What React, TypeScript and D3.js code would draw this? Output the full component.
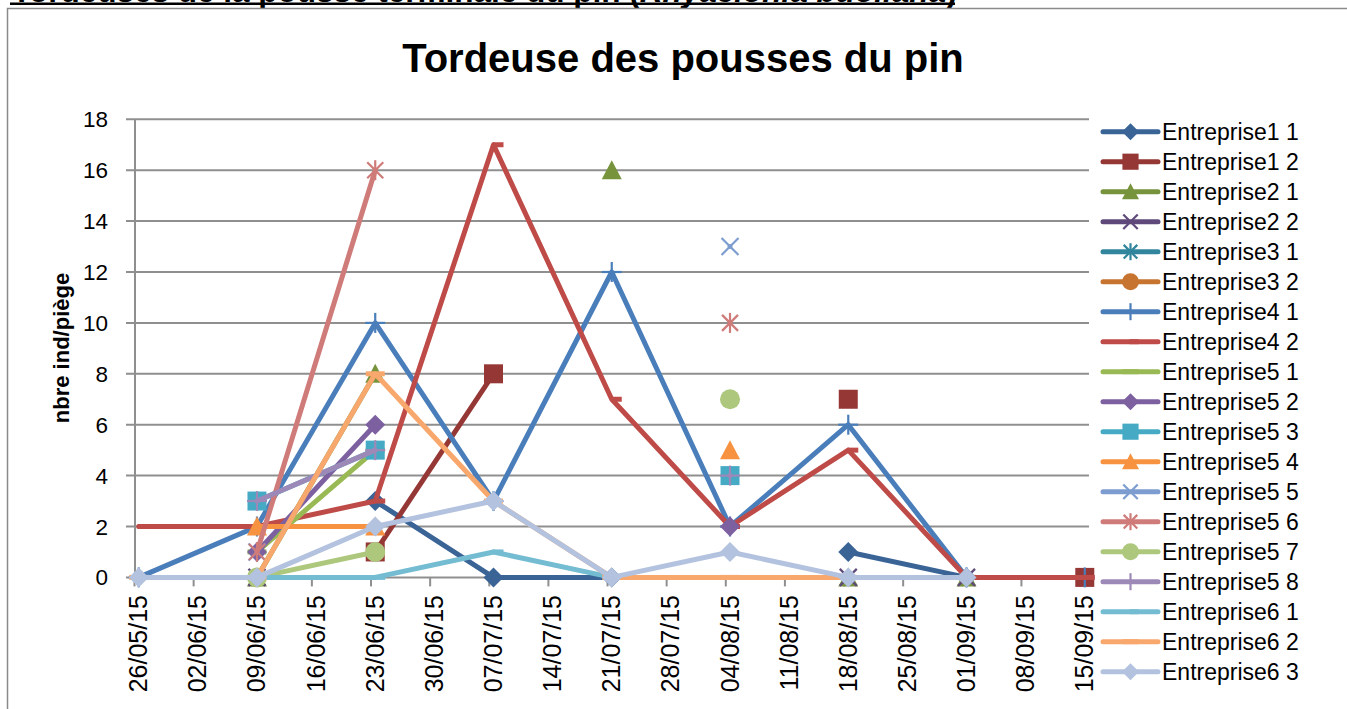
import React from 'react';
import * as d3 from 'd3';

// ---- data ----
const dateStrings = ['2015-05-26', '2015-06-09', '2015-06-23', '2015-07-07', '2015-07-21', '2015-08-04', '2015-08-18', '2015-09-01', '2015-09-15'];

const seriesNames = [
  'Entreprise1 1', 'Entreprise1 2', 'Entreprise2 1', 'Entreprise2 2', 'Entreprise3 1', 'Entreprise3 2',
  'Entreprise4 1', 'Entreprise4 2', 'Entreprise5 1', 'Entreprise5 2', 'Entreprise5 3', 'Entreprise5 4',
  'Entreprise5 5', 'Entreprise5 6', 'Entreprise5 7', 'Entreprise5 8', 'Entreprise6 1', 'Entreprise6 2', 'Entreprise6 3',
];

const seriesColors = [
  '#3A6396', '#953735', '#77933C', '#5F497A', '#31859C', '#C6742F',
  '#4A7EBB', '#BE4B48', '#98B954', '#7D60A0', '#46AAC5', '#F69240',
  '#7D9DD0', '#CF7B79', '#ADC77C', '#9C89B8', '#74BCD2', '#F8A86D', '#B3C2DE',
];

const seriesMarkers = [
  'diamond', 'square', 'triangle', 'x', 'star', 'circle', 'plus', 'dash', 'longdash',
  'diamond', 'square', 'triangle', 'x', 'star', 'circle', 'plus', 'dash', 'longdash', 'diamond',
];

type V = number | null;
const n = null;
const entreprise1_1: V[] = [n, n, 3, 0, 0, n, 1, 0, n];
const entreprise1_2: V[] = [n, n, 1, 8, n, n, 7, n, 0];
const entreprise2_1: V[] = [n, 0, 8, n, 16, n, 0, 0, n];
const entreprise2_2: V[] = [n, 0, n, n, n, n, 0, 0, n];
const entreprise3_1: V[] = [n, n, n, n, n, n, n, n, n];
const entreprise3_2: V[] = [n, n, n, n, n, n, n, n, n];
const entreprise4_1: V[] = [0, 2, 10, 3, 12, 2, 6, 0, 0];
const entreprise4_2: V[] = [2, 2, 3, 17, 7, 2, 5, 0, 0];
const entreprise5_1: V[] = [n, 1, 5, n, n, n, n, n, n];
const entreprise5_2: V[] = [n, 1, 6, n, n, 2, n, n, n];
const entreprise5_3: V[] = [n, 3, 5, n, n, 4, n, n, n];
const entreprise5_4: V[] = [n, 2, 2, n, n, 5, n, n, n];
const entreprise5_5: V[] = [n, 1, n, n, n, 13, n, n, n];
const entreprise5_6: V[] = [n, 1, 16, n, n, 10, n, n, n];
const entreprise5_7: V[] = [n, 0, 1, n, n, 7, n, n, n];
const entreprise5_8: V[] = [n, 3, 5, n, n, 4, n, n, n];
const entreprise6_1: V[] = [n, 0, 0, 1, 0, n, n, n, n];
const entreprise6_2: V[] = [0, 0, 8, 3, 0, 0, 0, n, n];
const entreprise6_3: V[] = [0, 0, 2, 3, 0, 1, 0, 0, n];

const seriesValues = [
  entreprise1_1, entreprise1_2, entreprise2_1, entreprise2_2, entreprise3_1, entreprise3_2,
  entreprise4_1, entreprise4_2, entreprise5_1, entreprise5_2, entreprise5_3, entreprise5_4,
  entreprise5_5, entreprise5_6, entreprise5_7, entreprise5_8, entreprise6_1, entreprise6_2, entreprise6_3,
];

const yTicks = [0, 2, 4, 6, 8, 10, 12, 14, 16, 18];
const chartTitle = 'Tordeuse des pousses du pin';
const yTitle = 'nbre ind/piège';
const headingMain = 'Tordeuses de la pousse terminale du pin (';
const headingItalic = 'Rhyacionia buoliana';

// ---- layout ----
const W = 1347;
const H = 709;
const FONT = '"Liberation Sans", Arial, sans-serif';

const parse = (s: string) => {
  const [yy, m, d] = s.split('-').map(Number);
  return new Date(Date.UTC(yy, m - 1, d));
};
const dates = dateStrings.map(parse);
const startDay = dates[0];
const endDay = d3.utcDay.offset(dates[dates.length - 1], 1);

const x = d3.scaleUtc().domain([startDay, endDay]).range([134.5, 1089]);
const y = d3.scaleLinear().domain([0, 18]).range([577.4, 119.3]);
const px = (d: Date) => x(d3.utcHour.offset(d, 12));

const xTickDates = d3.range(0, 113, 7).map((k) => d3.utcDay.offset(startDay, k));
const fmt = d3.utcFormat('%d/%m/%y');

function Marker({ type, color, cx, cy, s = 1 }: { type: string; color: string; cx: number; cy: number; s?: number }) {
  switch (type) {
    case 'diamond':
      return <path d={`M${cx},${cy - 10 * s}L${cx + 10 * s},${cy}L${cx},${cy + 10 * s}L${cx - 10 * s},${cy}Z`} fill={color} />;
    case 'square':
      return <rect x={cx - 9.5 * s} y={cy - 9.5 * s} width={19 * s} height={19 * s} fill={color} />;
    case 'triangle':
      return <path d={`M${cx},${cy - 10 * s}L${cx + 10 * s},${cy + 9 * s}L${cx - 10 * s},${cy + 9 * s}Z`} fill={color} />;
    case 'x':
      return (
        <g stroke={color} strokeWidth={2.2}>
          <line x1={cx - 8.5 * s} y1={cy - 8.5 * s} x2={cx + 8.5 * s} y2={cy + 8.5 * s} />
          <line x1={cx - 8.5 * s} y1={cy + 8.5 * s} x2={cx + 8.5 * s} y2={cy - 8.5 * s} />
        </g>
      );
    case 'star':
      return (
        <g stroke={color} strokeWidth={2.2}>
          <line x1={cx - 8 * s} y1={cy - 8 * s} x2={cx + 8 * s} y2={cy + 8 * s} />
          <line x1={cx - 8 * s} y1={cy + 8 * s} x2={cx + 8 * s} y2={cy - 8 * s} />
          <line x1={cx} y1={cy - 10 * s} x2={cx} y2={cy + 10 * s} />
        </g>
      );
    case 'circle':
      return <circle cx={cx} cy={cy} r={10 * s} fill={color} />;
    case 'plus':
      return (
        <g stroke={color} strokeWidth={2.2}>
          <line x1={cx - 10 * s} y1={cy} x2={cx + 10 * s} y2={cy} />
          <line x1={cx} y1={cy - 10 * s} x2={cx} y2={cy + 10 * s} />
        </g>
      );
    case 'dash':
      return <rect x={cx - 1} y={cy - 2.5} width={11 * s} height={5} fill={color} />;
    case 'longdash':
      return <rect x={cx - 9.5 * s} y={cy - 2.5} width={19 * s} height={5} fill={color} />;
    default:
      return null;
  }
}

export default function App() {
  const line = d3
    .line<V>()
    .defined((v) => v != null)
    .x((_, i) => px(dates[i]))
    .y((v) => y(v as number));

  const gridColor = '#8F8F8F';
  const legendX0 = 1103;
  const legendX1 = 1158;
  const legendY0 = 131.7;
  const legendStep = 30;

  return (
    <svg
      width={W}
      height={H}
      style={{ position: 'absolute', left: 0, top: 0, background: '#fff' }}
      fontFamily={FONT}
    >
      <rect x={0} y={0} width={W} height={H} fill="#fff" />
      {/* document heading, mostly cut off at the top edge */}
      <text x={12} y={2} fontSize={31.5} fontWeight="bold" fill="#000">
        {headingMain}
        <tspan fontStyle="italic">{headingItalic}</tspan>)
      </text>
      <rect x={10} y={2.5} width={945} height={2.5} fill="#000" />

      {/* chart frame */}
      <path d={`M7.5,${H + 5}V8.5H${W + 5}`} fill="none" stroke="#8A8A8A" strokeWidth={1.5} />

      {/* title */}
      <text x={683} y={72} textAnchor="middle" fontSize={40} fontWeight="bold" fill="#000">
        {chartTitle}
      </text>

      {/* gridlines + y ticks */}
      {yTicks.map((t) => (
        <g key={t}>
          <line x1={126} x2={1089} y1={y(t)} y2={y(t)} stroke={gridColor} strokeWidth={2} />
          <text x={108} y={y(t) + 8} textAnchor="end" fontSize={22.5} fill="#000">
            {t}
          </text>
        </g>
      ))}
      <line x1={135} x2={135} y1={y(18)} y2={y(0)} stroke={gridColor} strokeWidth={2} />

      {/* x ticks + labels */}
      {xTickDates.map((d, i) => (
        <g key={i}>
          <line x1={x(d)} x2={x(d)} y1={y(0)} y2={y(0) + 9} stroke={gridColor} strokeWidth={2} />
          <text
            transform={`translate(${px(d) + 8.5},595) rotate(-90)`}
            textAnchor="end"
            fontSize={25}
            fill="#000"
          >
            {fmt(d)}
          </text>
        </g>
      ))}

      {/* y title */}
      <text transform="translate(69,348) rotate(-90)" textAnchor="middle" fontSize={22} fontWeight="bold" fill="#000">
        {yTitle}
      </text>

      {/* series */}
      {seriesValues.map((vals, si) => (
        <g key={si}>
          <path
            d={line(vals) || ''}
            fill="none"
            stroke={seriesColors[si]}
            strokeWidth={5}
            strokeLinejoin="round"
            strokeLinecap="round"
          />
          {vals.map((v, i) =>
            v == null ? null : (
              <Marker key={i} type={seriesMarkers[si]} color={seriesColors[si]} cx={px(dates[i])} cy={y(v)} />
            )
          )}
        </g>
      ))}

      {/* legend */}
      {seriesNames.map((name, si) => {
        const ly = legendY0 + si * legendStep;
        return (
          <g key={name}>
            <line
              x1={legendX0}
              x2={legendX1}
              y1={ly}
              y2={ly}
              stroke={seriesColors[si]}
              strokeWidth={5}
              strokeLinecap="round"
            />
            <Marker type={seriesMarkers[si]} color={seriesColors[si]} cx={(legendX0 + legendX1) / 2} cy={ly} s={0.85} />
            <text x={1162} y={ly + 8} fontSize={23} fill="#000">
              {name}
            </text>
          </g>
        );
      })}
    </svg>
  );
}
